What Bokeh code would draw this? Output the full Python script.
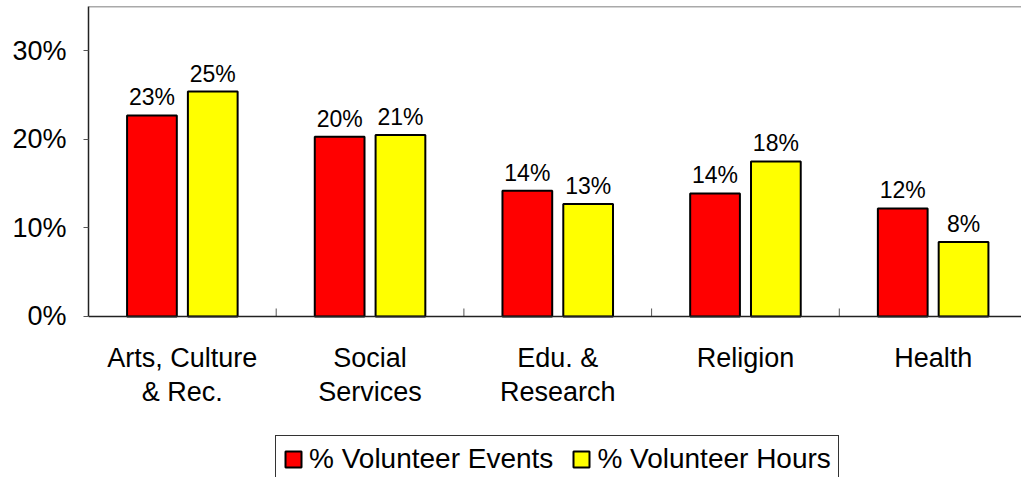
import numpy as np
from bokeh.plotting import figure
from bokeh.models import (ColumnDataSource, Range1d, FixedTicker, NumeralTickFormatter,
                          Legend, LegendItem, Span)
from bokeh.core.properties import value
from bokeh.embed import file_html
from bokeh.resources import INLINE

categories = ["Arts, Culture\n& Rec.", "Social\nServices", "Edu. &\nResearch", "Religion", "Health"]
events = [0.227, 0.203, 0.142, 0.139, 0.122]
hours = [0.254, 0.205, 0.127, 0.175, 0.084]
events_labels = ["23%", "20%", "14%", "14%", "12%"]
hours_labels = ["25%", "21%", "13%", "18%", "8%"]
y_ticks = [0, 0.1, 0.2, 0.3]
y_max = 0.35

FONT = "Liberation Sans"
W, H = 1021, 477
LEFT, TOP = 88, 6
PX_PER_UNIT = 885.7          # vertical pixels for 100%
CAT_PX = 187.7               # pixels per category

centers = np.arange(len(categories)) + 0.5
bounds_x = np.arange(1, len(categories))
offset = 0.162
bar_w = 0.265

src_e = ColumnDataSource(dict(x=centers - offset, top=events, label=events_labels))
src_h = ColumnDataSource(dict(x=centers + offset, top=hours, label=hours_labels))
src_c = ColumnDataSource(dict(x=centers, y=np.zeros(len(categories)), label=categories))

frame_h = H - TOP
y_min = y_max - frame_h / PX_PER_UNIT
x_max = (W - LEFT) / CAT_PX

p = figure(width=W, height=H, output_backend="svg", toolbar_location=None,
           x_range=Range1d(0, x_max), y_range=Range1d(y_min, y_max),
           min_border_left=LEFT, min_border_right=0, min_border_top=TOP, min_border_bottom=0)
p.outline_line_color = None
p.xaxis.visible = False
p.xgrid.visible = False
p.ygrid.visible = False
p.background_fill_color = "white"
p.border_fill_color = "white"

r_e = p.vbar(x="x", top="top", bottom=0, width=bar_w, source=src_e, fill_color="#ff0000",
             line_color="black", line_width=2)
r_h = p.vbar(x="x", top="top", bottom=0, width=bar_w, source=src_h, fill_color="#ffff00",
             line_color="black", line_width=2)

for src in (src_e, src_h):
    p.text(x="x", y="top", text="label", source=src, text_align="center",
           text_baseline="alphabetic", y_offset=-18, text_font_size="23px",
           text_font=value(FONT), text_color="black")

# category labels
p.text(x="x", y="y", text="label", source=src_c, text_align="center",
       text_baseline="top", y_offset=27, text_font_size="27px", text_line_height=1.12,
       text_font=value(FONT), text_color="black")

# top border and baseline
p.add_layout(Span(location=y_max, dimension="width", line_color="#555555", line_width=1.5))
p.add_layout(Span(location=0, dimension="width", line_color="#222222", line_width=1.5))

# category boundary ticks (inward)
p.segment(x0=bounds_x, y0=np.zeros(len(bounds_x)), x1=bounds_x,
          y1=np.full(len(bounds_x), 8 / PX_PER_UNIT), line_color="#555555", line_width=1)

# y axis
ya = p.yaxis[0]
ya.bounds = (0, y_max)
ya.ticker = FixedTicker(ticks=y_ticks, minor_ticks=[])
ya.formatter = NumeralTickFormatter(format="0%")
ya.major_tick_out = 5
ya.major_tick_in = 0
ya.major_label_standoff = 17
ya.major_label_text_font = FONT
ya.major_label_text_font_size = "27px"
ya.major_label_text_color = "black"
ya.axis_line_color = "#222222"
ya.axis_line_width = 1.5
ya.major_tick_line_color = "#555555"

legend = Legend(items=[LegendItem(label="% Volunteer Events", renderers=[r_e]),
                       LegendItem(label="% Volunteer Hours", renderers=[r_h])],
                orientation="horizontal", location=(187, -6))
legend.label_text_font = FONT
legend.label_text_font_size = "28px"
legend.label_text_color = "black"
legend.glyph_width = 20
legend.glyph_height = 20
legend.label_standoff = 6
legend.spacing = 18
legend.padding = 7
legend.margin = 0
legend.border_line_color = "#333333"
legend.border_line_alpha = 1
legend.border_line_width = 1
legend.background_fill_color = "white"
legend.background_fill_alpha = 1
p.add_layout(legend, "center")

open("out.html", "w").write(file_html(p, INLINE))
